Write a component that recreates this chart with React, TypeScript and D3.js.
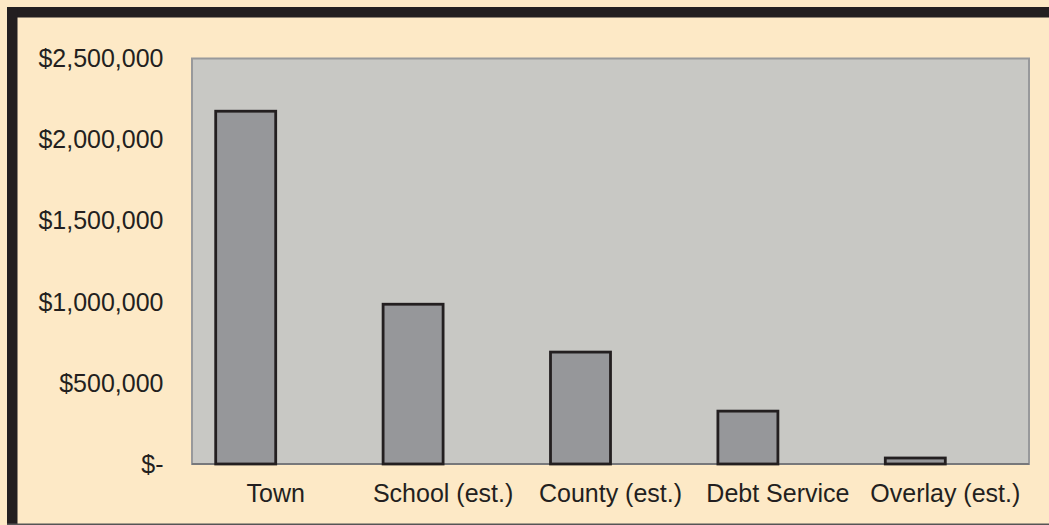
import React from "react";
import * as d3 from "d3";

const categories = ["Town", "School (est.)", "County (est.)", "Debt Service", "Overlay (est.)"];
const values = [2175000, 985000, 690000, 326000, 37000];
const yTicks = [0, 500000, 1000000, 1500000, 2000000, 2500000];
const subSeries = ["Amount", "(blank)"];

const W = 1049;
const H = 525;
const plot = { left: 192, right: 1029, top: 58.5, bottom: 464 };
const ink = "#231f20";
const font = "'Liberation Sans', Arial, Helvetica, sans-serif";

const fmt = (v: number) => (v === 0 ? "$-" : "$" + d3.format(",")(v));

export default function App() {
  const x = d3.scaleBand<string>().domain(categories).range([plot.left, plot.right]).padding(0);
  const bw = x.bandwidth();
  const gap = bw * (47.4 / 167.4);
  const xs = d3.scaleBand<string>().domain(subSeries).range([gap / 2, bw - gap / 2]).padding(0);
  const y = d3.scaleLinear().domain([0, 2500000]).range([plot.bottom, plot.top]);

  return (
    <svg width={W} height={H} style={{ position: "absolute", left: 0, top: 0 }} fontFamily={font}>
      <rect x={0} y={0} width={W} height={H} fill="#fde9c6" />
      {/* frame */}
      <rect x={7} y={7} width={W - 7} height={10.5} fill={ink} />
      <rect x={7} y={7} width={10.5} height={H - 7} fill={ink} />
      <rect x={7} y={523.5} width={W - 7} height={1.5} fill="#555" />
      {/* plot area */}
      <rect
        x={plot.left}
        y={plot.top}
        width={plot.right - plot.left}
        height={plot.bottom - plot.top}
        fill="#c8c8c4"
        stroke="#98999b"
        strokeWidth={2}
      />
      <line x1={plot.left} x2={plot.right} y1={plot.bottom} y2={plot.bottom} stroke="#6d6e70" strokeWidth={1.5} />
      {/* bars */}
      {categories.map((c, i) => (
        <rect
          key={c}
          x={(x(c) as number) + (xs("Amount") as number)}
          y={y(values[i])}
          width={xs.bandwidth()}
          height={y(0) - y(values[i])}
          fill="#96979a"
          stroke={ink}
          strokeWidth={2.8}
        />
      ))}
      {/* y labels */}
      {yTicks.map((t) => (
        <text key={t} x={163.5} y={y(t)} dy="0.35em" textAnchor="end" fontSize={25} fill={ink}>
          {fmt(t)}
        </text>
      ))}
      {/* x labels */}
      {categories.map((c) => (
        <text key={c} x={(x(c) as number) + bw / 2} y={501.5} textAnchor="middle" fontSize={25} fill={ink}>
          {c}
        </text>
      ))}
    </svg>
  );
}
